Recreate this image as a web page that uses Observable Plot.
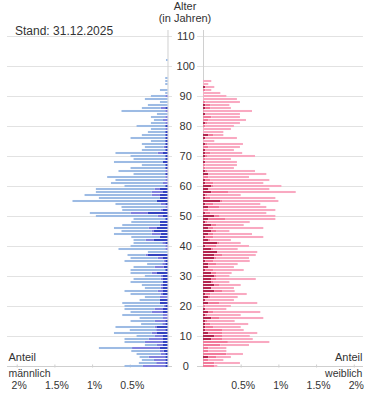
<!DOCTYPE html>
<html><head><meta charset="utf-8">
<script src="https://cdn.jsdelivr.net/npm/d3@7"></script>
<script src="https://cdn.jsdelivr.net/npm/@observablehq/plot@0.6"></script>
<style>
body{margin:0;background:#fff;font-family:"Liberation Sans",Arial,sans-serif;}
#wrap{position:relative;width:375px;height:416px;}
.lbl{position:absolute;color:#333;white-space:nowrap;line-height:1;}
</style></head><body>
<div id="wrap">
<div class="lbl" style="left:15px;top:25px;font-size:12px;">Stand: 31.12.2025</div>
<div class="lbl" style="left:135px;width:100px;text-align:center;top:1px;font-size:11px;">Alter</div>
<div class="lbl" style="left:135px;width:100px;text-align:center;top:13px;font-size:11px;">(in Jahren)</div>
</div>
<script>
const ageTicks = [0,10,20,30,40,50,60,70,80,90,100,110];
const shareTicks = [0.5,1,1.5,2];
const shareLabels = ["0.5%","1%","1.5%","2%"];
// male segments (% of population) by age 0..102: dark (innermost), mid, light (outer)
const maleLight = [.24,.23,.16,.12,.32,.38,.44,.16,.27,.32,
.24,.50,.35,.52,.28,.32,.31,.54,.28,.40,
.52,.50,.27,.20,.40,.44,.21,.25,.43,.36,
.21,.28,.46,.28,.20,.52,.36,.24,.26,.62,
.46,.38,.16,.38,.50,.40,.46,.50,.38,.42,
.82,.54,.51,.58,.60,1.12,.81,.89,.74,.78,
.54,.69,.66,.77,.42,.62,.46,.31,.65,.42,
.46,.56,.31,.25,.31,.19,.46,.31,.23,.19,
.38,.19,.12,.19,.14,.58,.25,.26,.10,.30,
.19,.03,.10,0,.03,.03,.03,0,0,0,
0,0,.02];
const maleMid = [.30,.12,.15,.22,.06,.05,.37,.08,.24,.19,
.11,.07,.12,.03,.04,.14,.06,.06,.15,.11,
.02,0,0,.10,.03,.07,.03,.03,0,.03,
.03,.07,0,.12,.04,.02,.07,.03,0,.03,
.03,.04,.11,0,.12,.03,.11,0,0,0,
.07,.23,.03,.03,.06,0,0,.11,.15,.07,
0,.06,.03,.03,0,.03,0,0,0,0,
0,.07,0,.02,0,0,0,0,0,.03,
0,.03,.06,.03,0,.03,.06,0,0,0,
.03,0,0,0,0,0,0,0,0,0,
0,0,0];
const maleDark = [.03,.03,.03,.03,.03,.05,.10,.06,.06,.06,
.06,.14,.03,.14,.03,.03,0,0,.06,.06,
.03,.10,.10,0,.06,.06,.06,.06,.06,.06,
.06,.14,.03,.05,.03,.03,.06,.26,0,0,
0,.03,.18,.10,.09,.18,.14,.10,.10,.03,
.06,.26,.06,0,.03,.14,.10,.10,.06,.10,
.03,0,0,0,.03,0,.03,.03,.06,.03,
.03,.06,.03,.03,.03,.03,.03,.03,.03,0,
.03,0,0,0,0,0,.03,0,0,0,
0,0,0,0,0,0,0,0,0,0,
0,0,0];
// female segments by age 0..95
const femaleLight = [.04,.34,.20,.19,.22,.24,.24,.38,.55,.40,
.36,.46,.28,.36,.50,.36,.58,.44,.62,.28,
.34,.50,.38,.36,.48,.16,.30,.28,.21,.52,
.17,.20,.40,.34,.28,.48,.43,.44,.53,.32,
.43,.28,.27,.66,.51,.17,.66,.36,.56,.66,
.74,.74,.89,.62,.62,.74,.86,.44,.89,.81,
.90,.66,.78,.54,.77,.63,.38,.42,.42,.34,
.63,.42,.38,.42,.47,.15,.42,.13,.27,.37,
.38,.43,.50,.38,.46,.64,.27,.25,.46,.45,
.31,.23,.08,.12,.07,.11];
const femaleMid = [.15,.15,.07,.11,.31,.07,.07,.23,.33,.15,
.11,.19,.23,.11,.07,.03,.11,.03,.07,0,
.03,.15,0,.03,.07,.11,0,.07,.03,.07,
.03,.07,.11,0,.11,.11,.03,.11,0,.03,
.15,.03,.03,.11,.07,.07,.07,.07,.03,.23,
.07,.07,.07,.15,.11,.03,.07,.03,.23,0,
.03,.11,.07,.07,0,.03,.03,.03,0,.03,
.03,.07,0,.07,.03,0,0,.07,0,0,
.03,.03,.07,.11,0,.01,.07,.07,.03,0,
0,0,.03,0,0,0];
const femaleDark = [0,0,0,.07,0,0,0,0,0,.11,
.15,.07,.03,.03,.03,.03,.11,.03,.07,.03,
0,.07,.03,.07,.03,.15,.11,.15,.11,.11,
.15,.11,.03,.07,.07,.03,.15,.15,.19,.11,
.03,.19,.07,.03,.07,.11,.07,.11,.03,.07,
.15,.03,0,.07,.03,.23,.03,.03,.11,.07,
.11,.03,.03,0,.07,.03,0,0,.03,0,
.03,.03,.03,0,.03,0,.03,.07,0,0,
0,.03,0,0,.03,0,.03,.03,0,0,
0,0,0,.03,0,0];

const maleColors = ["#3343c0","#8181de","#9dbbe4"];
const femaleColors = ["#b3264f","#f27a9b","#f9a9c1"];

const G = 0.2354; // half gap between panels, in % units
const H = 0.34;   // half bar thickness, in years

function segments(dark, mid, light, sign, colors) {
  const out = [];
  dark.forEach((d, age) => {
    const parts = [d, mid[age], light[age]];
    let cum = 0;
    parts.forEach((v, k) => {
      if (v > 0) {
        const a = G + cum, b = G + cum + v;
        out.push({age, x1: sign * a, x2: sign * b, fill: colors[k]});
      }
      cum += v;
    });
  });
  return out;
}
const maleSeg = segments(maleDark, maleMid, maleLight, -1, maleColors);
const femaleSeg = segments(femaleDark, femaleMid, femaleLight, 1, femaleColors);

const tickData = [
  ...shareTicks.map((v, i) => ({x: -(G + v), label: shareLabels[i]})),
  ...shareTicks.map((v, i) => ({x: G + v, label: shareLabels[i]}))
];

const chart = Plot.plot({
  width: 375, height: 416,
  marginLeft: 0, marginRight: 0, marginTop: 36, marginBottom: 50,
  style: {fontFamily: '"Liberation Sans", Arial, sans-serif', color: "#333", background: "transparent"},
  x: {domain: [-2.457, 2.517], axis: null},
  y: {domain: [0, 110], axis: null},
  marks: [
    Plot.ruleY(ageTicks, {x1: -2.364, x2: -0.176, stroke: "#e2e2e2"}),
    Plot.ruleY(ageTicks, {x1: 0.156, x2: 2.357, stroke: "#e2e2e2"}),
    Plot.ruleY([0], {x1: -2.364, x2: -0.176, stroke: "#cfcfcf"}),
    Plot.ruleY([0], {x1: 0.156, x2: 2.357, stroke: "#cfcfcf"}),
    Plot.ruleX([-G, G], {y1: 0, y2: 112, stroke: "#d0d0d0"}),
    Plot.ruleX(tickData, {x: "x", y1: -0.5, y2: 0.5, stroke: "#cfcfcf"}),
    Plot.rect(maleSeg, {x1: "x1", x2: "x2", y1: d => d.age - H, y2: d => d.age + H, fill: "fill"}),
    Plot.rect(femaleSeg, {x1: "x1", x2: "x2", y1: d => d.age - H, y2: d => d.age + H, fill: "fill"}),
    Plot.text(ageTicks, {x: 0, y: d => d, text: d => String(d), fontSize: 11, fill: "#333"}),
    Plot.text(tickData, {x: "x", y: 0, dy: 19, dx: 2, text: "label", fontSize: 10.5, fill: "#333"}),
    Plot.text(["Anteil"], {x: -2.351, y: 0, dy: -9, text: d => d, textAnchor: "start", fontSize: 11, fill: "#333"}),
    Plot.text(["männlich"], {x: -2.351, y: 0, dy: 7, text: d => d, textAnchor: "start", fontSize: 10.5, fill: "#333"}),
    Plot.text(["Anteil"], {x: 2.344, y: 0, dy: -9, text: d => d, textAnchor: "end", fontSize: 11, fill: "#333"}),
    Plot.text(["weiblich"], {x: 2.344, y: 0, dy: 7, text: d => d, textAnchor: "end", fontSize: 10.5, fill: "#333"})
  ]
});
chart.style.position = "absolute";
chart.style.left = "0px";
chart.style.top = "0px";
document.getElementById("wrap").appendChild(chart);
</script>
</body></html>
